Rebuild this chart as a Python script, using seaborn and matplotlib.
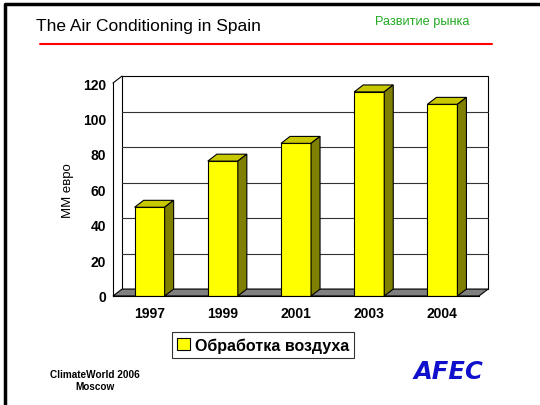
import numpy as np
import pandas as pd
import matplotlib
matplotlib.use("Agg")
import matplotlib.pyplot as plt
from matplotlib.patches import Polygon, Patch, Rectangle
from matplotlib.lines import Line2D
import seaborn as sns

# data
years = ["1997", "1999", "2001", "2003", "2004"]
values = [50, 76, 86, 115, 108]
series_name = "Обработка воздуха"
y_label = "MM евро"

df = pd.DataFrame({"year": years, "value": values})

sns.set_style("white")
plt.rcParams["font.family"] = ["Liberation Sans", "DejaVu Sans"]
plt.rcParams["text.color"] = "black"
plt.rcParams["axes.labelcolor"] = "black"
plt.rcParams["xtick.color"] = "black"
plt.rcParams["ytick.color"] = "black"

fig = plt.figure(figsize=(5.4, 4.06), dpi=100)
ax = fig.add_axes([0.2093, 0.2685, 0.6778, 0.5246])

# depth of the fake 3d box, in data units
dx, dy = 0.123, 3.9
ymax = 120

sns.barplot(data=df, x="year", y="value", color="#FFFF00", width=0.41,
            edgecolor="black", linewidth=0.8, saturation=1, ax=ax, zorder=5)
ax.set_xlim(-0.5, 4.5)
ax.set_ylim(0, ymax)

# back wall + gridlines
ax.add_patch(Rectangle((-0.5 + dx, dy), 5, ymax, facecolor="white",
                       edgecolor="black", lw=0.8, zorder=1, clip_on=False))
for t in range(20, ymax, 20):
    ax.add_line(Line2D([-0.5 + dx, 4.5 + dx], [t + dy, t + dy], color="#333333",
                       lw=0.8, zorder=2, clip_on=False))
# left wall diagonal
ax.add_line(Line2D([-0.5, -0.5 + dx], [ymax, ymax + dy], color="black", lw=0.8,
                   zorder=2, clip_on=False))
# floor
ax.add_patch(Polygon([(-0.5, 0), (4.5, 0), (4.5 + dx, dy), (-0.5 + dx, dy)],
                     closed=True, facecolor="#808080", edgecolor="black", lw=0.8,
                     zorder=3, clip_on=False))

# top and side faces of the bars
for p in ax.patches[:len(years)]:
    x0, w, h = p.get_x(), p.get_width(), p.get_height()
    top = Polygon([(x0, h), (x0 + w, h), (x0 + w + dx, h + dy), (x0 + dx, h + dy)],
                  closed=True, facecolor="#C8C800", edgecolor="black", lw=0.8,
                  zorder=6, clip_on=False)
    side = Polygon([(x0 + w, 0), (x0 + w + dx, dy), (x0 + w + dx, h + dy), (x0 + w, h)],
                   closed=True, facecolor="#808000", edgecolor="black", lw=0.8,
                   zorder=6, clip_on=False)
    ax.add_patch(top)
    ax.add_patch(side)

for s in ["top", "right"]:
    ax.spines[s].set_visible(False)
for s in ["left", "bottom"]:
    ax.spines[s].set_color("black")
    ax.spines[s].set_linewidth(0.8)
    ax.spines[s].set_zorder(7)

ax.set_yticks(range(0, ymax + 1, 20))
ax.tick_params(axis="y", direction="out", length=4, width=0.8,
               labelsize=10, pad=1)
ax.tick_params(axis="x", which="major", length=0, labelsize=10, pad=7)
ax.set_xticks(np.arange(-0.5, 5, 1), minor=True)
ax.tick_params(axis="x", which="minor", direction="out", length=4, width=0.8)
for lab in ax.get_xticklabels() + ax.get_yticklabels():
    lab.set_fontweight("bold")
ax.set_xlabel("")
ax.set_ylabel(y_label, fontsize=9.5, labelpad=6)

# legend
leg = fig.legend(handles=[Patch(facecolor="#FFFF00", edgecolor="black", lw=0.8, label=series_name)],
                 loc="center", bbox_to_anchor=(263 / 540, 1 - 346 / 406),
                 frameon=True, fancybox=False, edgecolor="black",
                 prop={"weight": "bold", "size": 11.5}, handlelength=0.8, handleheight=0.8,
                 handletextpad=0.3, borderpad=0.35)
leg.get_frame().set_linewidth(0.8)

# slide decorations
fig.text(36 / 540, 1 - 27 / 406, "The Air Conditioning in Spain", fontsize=12.5,
         va="center", ha="left")
fig.text(422 / 540, 1 - 22 / 406, "Развитие рынка", fontsize=9.2, color="#22AA22",
         va="center", ha="center")
fig.add_artist(Line2D([40 / 540, 492 / 540], [1 - 45 / 406, 1 - 45 / 406],
                      color="red", lw=1.5))
fig.add_artist(Line2D([5 / 540, 5 / 540, 1], [0, 1 - 5 / 406, 1 - 5 / 406],
                      color="black", lw=2.5))
fig.text(95 / 540, 1 - 381 / 406, "ClimateWorld 2006\nMoscow", fontsize=7.2,
         fontweight="bold", ha="center", va="center", linespacing=1.3)
fig.text(448 / 540, 1 - 372 / 406, "AFEC", fontsize=17.5, fontweight="heavy",
         style="italic", color="#1010CC", ha="center", va="center",
         family="DejaVu Sans")

fig.savefig("out.png", dpi=100)
